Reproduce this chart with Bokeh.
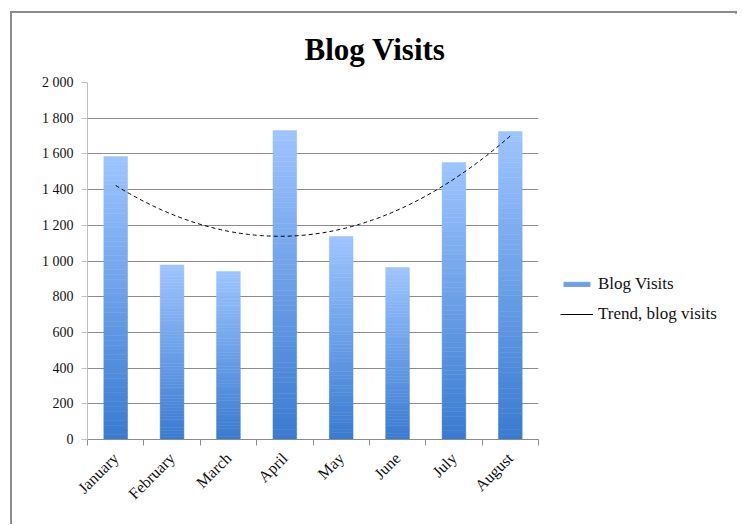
import numpy as np
from bokeh.plotting import figure
from bokeh.models import Range1d, FixedTicker, Legend, LegendItem, ColumnDataSource
from bokeh.embed import file_html
from bokeh.resources import INLINE

# ---- data ----
months = ["January", "February", "March", "April", "May", "June", "July", "August"]
visits = [1585, 978, 941, 1731, 1137, 964, 1552, 1725]
y_ticks = [0, 200, 400, 600, 800, 1000, 1200, 1400, 1600, 1800, 2000]
y_tick_labels = ["0", "200", "400", "600", "800", "1 000", "1 200", "1 400", "1 600", "1 800", "2 000"]
title_text = "Blog Visits"
series_name = "Blog Visits"
trend_name = "Trend, blog visits"

FONT = "Liberation Serif"

p = figure(frame_width=451, frame_height=357, output_backend="svg", toolbar_location=None,
           x_range=Range1d(0, len(months)), y_range=Range1d(0, 2000),
           min_border_left=75, min_border_right=193, min_border_top=68, min_border_bottom=85,
           styles={"border-top": "2px solid #8c8c8c", "border-left": "2px solid #8c8c8c",
                   "border-right": "2px solid #8c8c8c", "margin-left": "10px",
                   "margin-top": "11px", "width": "727px", "box-sizing": "border-box"})
p.outline_line_color = None

# ---- title ----
p.title.text = title_text
p.title.align = "left"
p.title.offset = 217
p.title.standoff = 32
p.title.text_font = FONT
p.title.text_font_size = "31px"
p.title.text_font_style = "bold"
p.title.text_color = "black"

# ---- gradient bars (each bar split in thin slices, light at top, dark at bottom) ----
N = 60
top_rgb = np.array([158, 197, 255])
bot_rgb = np.array([58, 123, 208])
xs, bs, ts, cs = [], [], [], []
centers = np.arange(len(months)) + 0.5
for c, v in zip(centers, visits):
    for k in range(N):
        f = (k + 0.5) / N
        rgb = (bot_rgb + (top_rgb - bot_rgb) * f).astype(int)
        xs.append(c)
        bs.append(v * k / N)
        ts.append(v * (k + 1) / N)
        cs.append("#%02x%02x%02x" % tuple(rgb))
src = ColumnDataSource(dict(x=xs, bottom=bs, top=ts, color=cs))
bars = p.vbar(x="x", bottom="bottom", top="top", width=0.42, source=src,
              fill_color="color", line_color="color", line_width=0.5)

# ---- polynomial (order 2) trend line, fitted to the data ----
idx = np.arange(1, len(months) + 1)
coef = np.polyfit(idx, visits, 2)
tx = np.linspace(1, len(months), 200)
ty = np.polyval(coef, tx)
p.line(tx - 0.5, ty, line_color="black", line_width=1, line_dash="4 3")
# solid legend swatch for the trend (single point: draws nothing in the plot)
trend_leg = p.line(x=[tx[0] - 0.5], y=[ty[0]], line_color="black", line_width=1.2)

# ---- axes ----
p.yaxis.ticker = FixedTicker(ticks=y_ticks)
p.yaxis.major_label_overrides = dict(zip(y_ticks, y_tick_labels))
p.yaxis.major_tick_in = 0
p.yaxis.major_tick_out = 6
p.yaxis.minor_tick_line_color = None
p.yaxis.axis_line_color = "#c0c0c0"
p.yaxis.major_tick_line_color = "#c0c0c0"
p.yaxis.major_label_text_font = FONT
p.yaxis.major_label_text_font_size = "14px"
p.yaxis.major_label_text_color = "#111111"
p.yaxis.major_label_standoff = 8

p.xaxis.ticker = FixedTicker(ticks=list(centers), minor_ticks=list(range(len(months) + 1)))
p.xaxis.major_label_overrides = {float(c): m for c, m in zip(centers, months)}
p.xaxis.major_tick_in = 0
p.xaxis.major_tick_out = 0
p.xaxis.minor_tick_in = 0
p.xaxis.minor_tick_out = 6
p.xaxis.minor_tick_line_color = "#8c8c8c"
p.xaxis.axis_line_color = "#8c8c8c"
p.xaxis.major_label_orientation = np.pi / 4
p.xaxis.major_label_text_font = FONT
p.xaxis.major_label_text_font_size = "16px"
p.xaxis.major_label_text_color = "#111111"
p.xaxis.major_label_standoff = 10

p.xgrid.visible = False
p.ygrid.ticker = FixedTicker(ticks=y_ticks[1:])
p.ygrid.grid_line_color = "#8c8c8c"

# ---- legend ----
legend = Legend(items=[LegendItem(label=series_name, renderers=[bars], index=N // 2),
                       LegendItem(label=trend_name, renderers=[trend_leg])],
                location=(22, 113), border_line_color=None, background_fill_alpha=0,
                glyph_width=33, glyph_height=6, label_height=24, spacing=6,
                label_text_font=FONT, label_text_font_size="17px", label_text_color="#111111",
                padding=0, margin=0, label_standoff=5)
p.add_layout(legend, "right")

open("out.html", "w").write(file_html(p, INLINE))
